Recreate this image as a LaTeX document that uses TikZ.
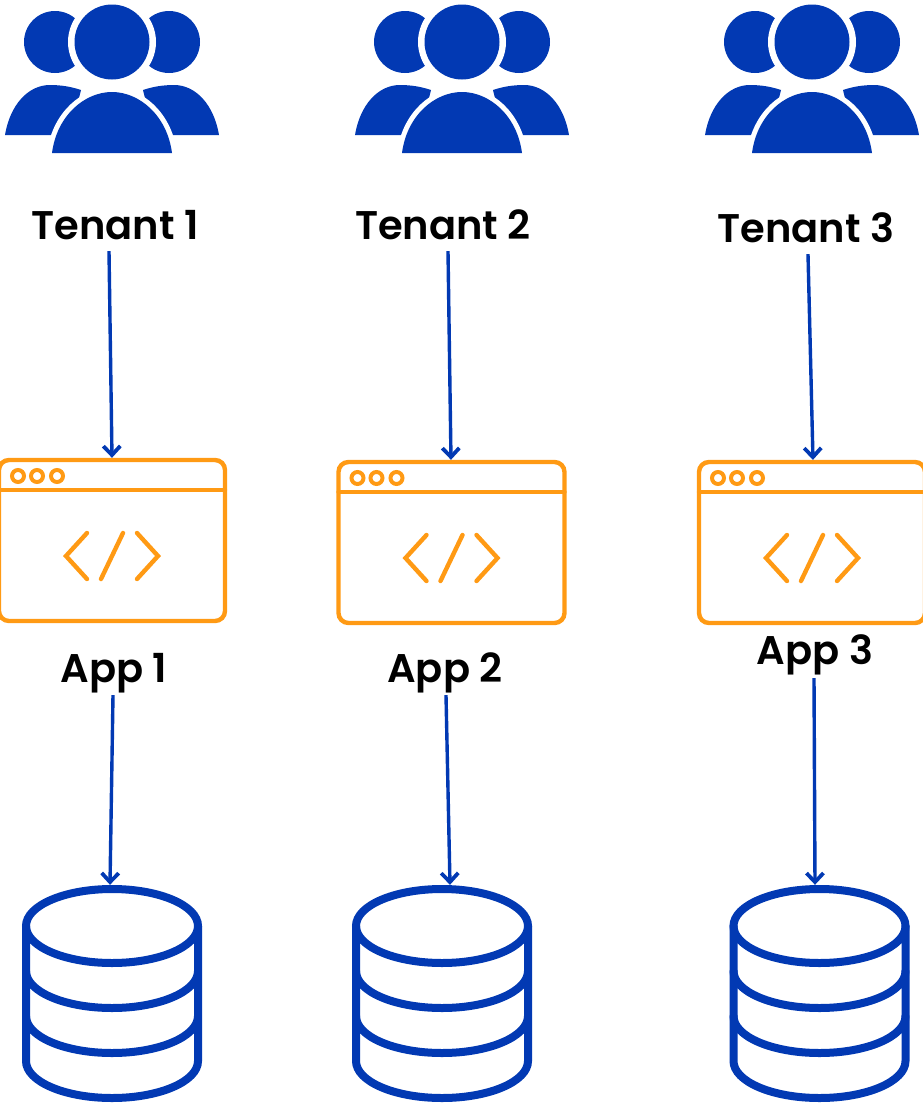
\documentclass[tikz,border=0pt]{standalone}
\usepackage{fontspec}
\setmainfont{Poppins}[UprightFont=* SemiBold,BoldFont=* SemiBold]
\usetikzlibrary{arrows.meta}
\definecolor{brandblue}{HTML}{0239B3}
\definecolor{brandorange}{HTML}{FF9A14}
\tikzset{
  x=1pt,y=-1pt,
  lab/.style={font=\fontsize{40}{40}\selectfont,text=black,inner sep=0pt,minimum height=50pt,align=center},
  wire/.style={draw=brandblue,line width=3.4pt,-{Straight Barb[length=9pt,width=17pt,line width=3.8pt]}},
  winbox/.style={draw=brandorange,line width=4.4pt,rounded corners=10pt,minimum width=226pt,minimum height=161pt,inner sep=0pt},
  winline/.style={draw=brandorange,line width=4.4pt,line cap=round,line join=miter},
  dbbox/.style={inner sep=0pt,minimum width=180pt,minimum height=217pt},
  dbline/.style={draw=brandblue,line width=8pt,line cap=round},
}
\newcommand{\peopleicon}[1]{%
\begin{scope}[shift={(#1,0)}]
  \fill[brandblue] (55,42) circle (31);
  \fill[brandblue] (169,42) circle (31);
  \fill[white] (112,42) circle (44);
  \fill[brandblue] (112,42) circle (37.5);
  \fill[brandblue] (5,135) .. controls (10,105) and (28,85) .. (50,85) .. controls (62,85) and (72,87) .. (81,90) -- (70,135) -- cycle;
  \fill[brandblue] (219,135) .. controls (214,105) and (196,85) .. (174,85) .. controls (162,85) and (152,87) .. (143,90) -- (154,135) -- cycle;
  \draw[white,line width=10pt] (52,153) .. controls (57,115) and (85,92) .. (112,92) .. controls (139,92) and (167,115) .. (172,153) -- cycle;
  \fill[brandblue] (52,153) .. controls (57,115) and (85,92) .. (112,92) .. controls (139,92) and (167,115) .. (172,153) -- cycle;
\end{scope}}
\newcommand{\windowicon}[3]{%
\begin{scope}[shift={(#2,#3)}]
  \node[winbox] (#1) at (112,540.5) {};
  \draw[winline] (-1,490) -- (225,490);
  \draw[brandorange,line width=4pt] (18,476) circle (6) (37,476) circle (6) (57,476) circle (6);
  \draw[winline] (87,533) -- (66,556) -- (87,579);
  \draw[winline] (123,533) -- (101,579);
  \draw[winline] (137,533) -- (158,556) -- (137,579);
\end{scope}}
\newcommand{\dbicon}[2]{%
\begin{scope}[shift={(#2,0)}]
  \node[dbbox] (#1) at (112,993.5) {};
  \draw[dbline] (112,926) ellipse (86 and 37);
  \draw[dbline] (26,926) -- (26,1061) arc (180:0:86 and 37) -- (198,926);
  \draw[dbline] (26,971) arc (180:0:86 and 37);
  \draw[dbline] (26,1016) arc (180:0:86 and 37);
\end{scope}}
\begin{document}
\begin{tikzpicture}
\useasboundingbox (0,0) rectangle (923,1103);
\peopleicon{0}\peopleicon{350}\peopleicon{700}
\windowicon{w1}{0}{0}\windowicon{w2}{339.5}{2}\windowicon{w3}{700}{2}
\dbicon{d1}{0}\dbicon{d2}{330}\dbicon{d3}{707.5}
\node[lab] (t1) at (115,225) {Tenant 1};
\node[lab] (t2) at (443,225) {Tenant 2};
\node[lab] (t3) at (806,228) {Tenant 3};
\node[lab] (a1) at (114,673) {App 1};
\node[lab] (a2) at (445,673) {App 2};
\node[lab] (a3) at (815,655) {App 3};
\draw[wire] ([xshift=-6pt,yshift=-1pt]t1.south) -- (w1.north);
\draw[wire] ([xshift=5pt,yshift=-1pt]t2.south) -- ([xshift=-0.5pt]w2.north);
\draw[wire] ([xshift=2pt,yshift=-1pt]t3.south) -- ([xshift=1pt]w3.north);
\draw[wire] ([xshift=-1pt,yshift=3pt]a1.south) -- ([xshift=-2pt]d1.north);
\draw[wire] ([xshift=1pt,yshift=3pt]a2.south) -- ([xshift=8pt]d2.north);
\draw[wire] ([xshift=-1pt,yshift=2pt]a3.south) -- ([xshift=-4.5pt]d3.north);
\end{tikzpicture}
\end{document}
